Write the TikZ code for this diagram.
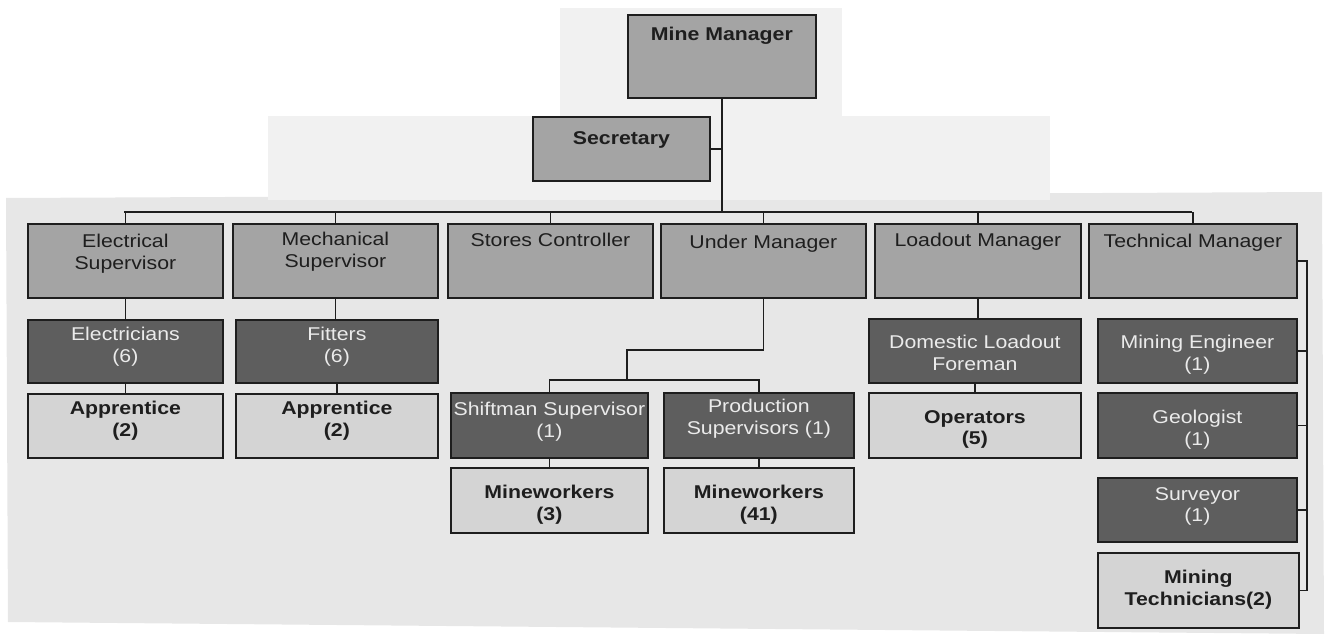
\documentclass[tikz,border=0pt]{standalone}
\usepackage{fontspec}
\setmainfont{Liberation Sans}[FakeStretch=1.15]
\definecolor{midgray}{HTML}{A4A4A4}
\definecolor{darkgray}{HTML}{5E5E5E}
\definecolor{lightgray}{HTML}{D4D4D4}
\definecolor{bggray}{HTML}{E7E7E7}
\definecolor{inkc}{HTML}{1E1E1E}
\tikzset{
  box/.style={draw=inkc, line width=1.8pt, anchor=north west, inner sep=0pt},
  midbox/.style={box, fill=midgray},
  darkbox/.style={box, fill=darkgray},
  lightbox/.style={box, fill=lightgray},
  lbl/.style={anchor=north, align=center, inner sep=0pt, text=inkc, font=\fontsize{18.5}{21.5}\selectfont},
  blbl/.style={lbl, font=\fontsize{18.5}{21.5}\selectfont\bfseries},
  dlbl/.style={lbl, text=white!92!black},
  conn/.style={draw=inkc, line width=1.8pt}
}
\begin{document}
\begin{tikzpicture}[x=1pt,y=-1pt]
\useasboundingbox (0,0) rectangle (1331,639);
% background paper tones
\fill[bggray] (6,198) -- (1322,192) -- (1324,634) -- (8,622) -- cycle;
\fill[bggray!60!white] (268,116) rectangle (1050,200);
\fill[bggray!60!white] (560,8) rectangle (842,116);
% top
\node[midbox, minimum width=188pt, minimum height=83pt, label={[blbl, yshift=-13pt]north:Mine Manager}] (mm) at (627,14) {};
\node[midbox, minimum width=177pt, minimum height=64pt, label={[blbl, yshift=-15pt]north:Secretary}] (sec) at (532,116) {};
% second row
\node[midbox, minimum width=195pt, minimum height=74pt, label={[lbl, yshift=-11pt]north:Electrical\\Supervisor}] (es) at (27,223) {};
\node[midbox, minimum width=205pt, minimum height=74pt, label={[lbl, yshift=-9pt]north:Mechanical\\Supervisor}] (ms) at (232,223) {};
\node[midbox, minimum width=205pt, minimum height=74pt, label={[lbl, yshift=-10pt]north:Stores Controller}] (sc) at (447,223) {};
\node[midbox, minimum width=205pt, minimum height=74pt, label={[lbl, yshift=-12pt]north:Under Manager}] (um) at (660,223) {};
\node[midbox, minimum width=206pt, minimum height=74pt, label={[lbl, yshift=-10pt]north:Loadout Manager}] (lm) at (874,223) {};
\node[midbox, minimum width=208pt, minimum height=74pt, label={[lbl, yshift=-11pt]north:Technical Manager}] (tm) at (1088,223) {};
% electrical / mechanical branches
\node[darkbox, minimum width=195pt, minimum height=63pt, label={[dlbl, yshift=-8pt]north:Electricians\\(6)}] (el) at (27,319) {};
\node[darkbox, minimum width=202pt, minimum height=63pt, label={[dlbl, yshift=-8pt]north:Fitters\\(6)}] (fi) at (235,319) {};
\node[lightbox, minimum width=195pt, minimum height=64pt, label={[blbl, yshift=-8pt]north:Apprentice\\(2)}] (ap1) at (27,393) {};
\node[lightbox, minimum width=202pt, minimum height=64pt, label={[blbl, yshift=-8pt]north:Apprentice\\(2)}] (ap2) at (235,393) {};
% under manager branch
\node[darkbox, minimum width=197pt, minimum height=65pt, label={[dlbl, yshift=-10pt]north:Shiftman Supervisor\\(1)}] (ss) at (450,392) {};
\node[darkbox, minimum width=190pt, minimum height=65pt, label={[dlbl, yshift=-7pt]north:Production\\Supervisors (1)}] (ps) at (663,392) {};
\node[lightbox, minimum width=197pt, minimum height=65pt, label={[blbl, yshift=-18pt]north:Mineworkers\\(3)}] (mw3) at (450,467) {};
\node[lightbox, minimum width=190pt, minimum height=65pt, label={[blbl, yshift=-18pt]north:Mineworkers\\(41)}] (mw41) at (663,467) {};
% loadout branch
\node[darkbox, minimum width=212pt, minimum height=64pt, label={[dlbl, yshift=-17pt]north:Domestic Loadout\\Foreman}] (dlf) at (868,318) {};
\node[lightbox, minimum width=212pt, minimum height=65pt, label={[blbl, yshift=-18pt]north:Operators\\(5)}] (op) at (868,392) {};
% technical branch
\node[darkbox, minimum width=199pt, minimum height=64pt, label={[dlbl, yshift=-17pt]north:Mining Engineer\\(1)}] (me) at (1097,318) {};
\node[darkbox, minimum width=199pt, minimum height=65pt, label={[dlbl, yshift=-18pt]north:Geologist\\(1)}] (geo) at (1097,392) {};
\node[darkbox, minimum width=199pt, minimum height=64pt, label={[dlbl, yshift=-10pt]north:Surveyor\\(1)}] (sur) at (1097,477) {};
\node[lightbox, minimum width=201pt, minimum height=75pt, label={[blbl, yshift=-18pt]north:Mining\\Technicians(2)}] (mt) at (1097,552) {};
% connectors
\coordinate (barL) at (124,212);
\coordinate (barR) at (1192,212);
\coordinate (umj) at (627,350);
\coordinate (brk) at (627,380);
\coordinate (rail) at (1307,0);
\draw[conn] (mm.south) -- (mm.south |- barL);
\draw[conn] (sec.east) -- (sec.east -| mm.south);
\draw[conn] (barL) -- (barR);
\foreach \n in {es,ms,sc,um,lm,tm} { \draw[conn] (\n.north) -- (\n.north |- barL); }
\draw[conn] (es.south) -- (el.north);
\draw[conn] (el.south) -- (ap1.north);
\draw[conn] (ms.south) -- (ms.south |- fi.north);
\draw[conn] (fi.south) -- (fi.south |- ap2.north);
\draw[conn] (um.south) -- (um.south |- umj) -- (umj) -- (brk);
\draw[conn] (ss.north) -- (ss.north |- brk) -- (ps.north |- brk) -- (ps.north);
\draw[conn] (ss.south) -- (mw3.north);
\draw[conn] (ps.south) -- (mw41.north);
\draw[conn] (lm.south) -- (lm.south |- dlf.north);
\draw[conn] (dlf.south) -- (op.north);
\draw[conn] (tm.east) -- (tm.east -| rail) -- (rail |- mt.east) -- (mt.east);
\foreach \n in {me,geo,sur} { \draw[conn] (\n.east) -- (\n.east -| rail); }
\end{tikzpicture}
\end{document}
